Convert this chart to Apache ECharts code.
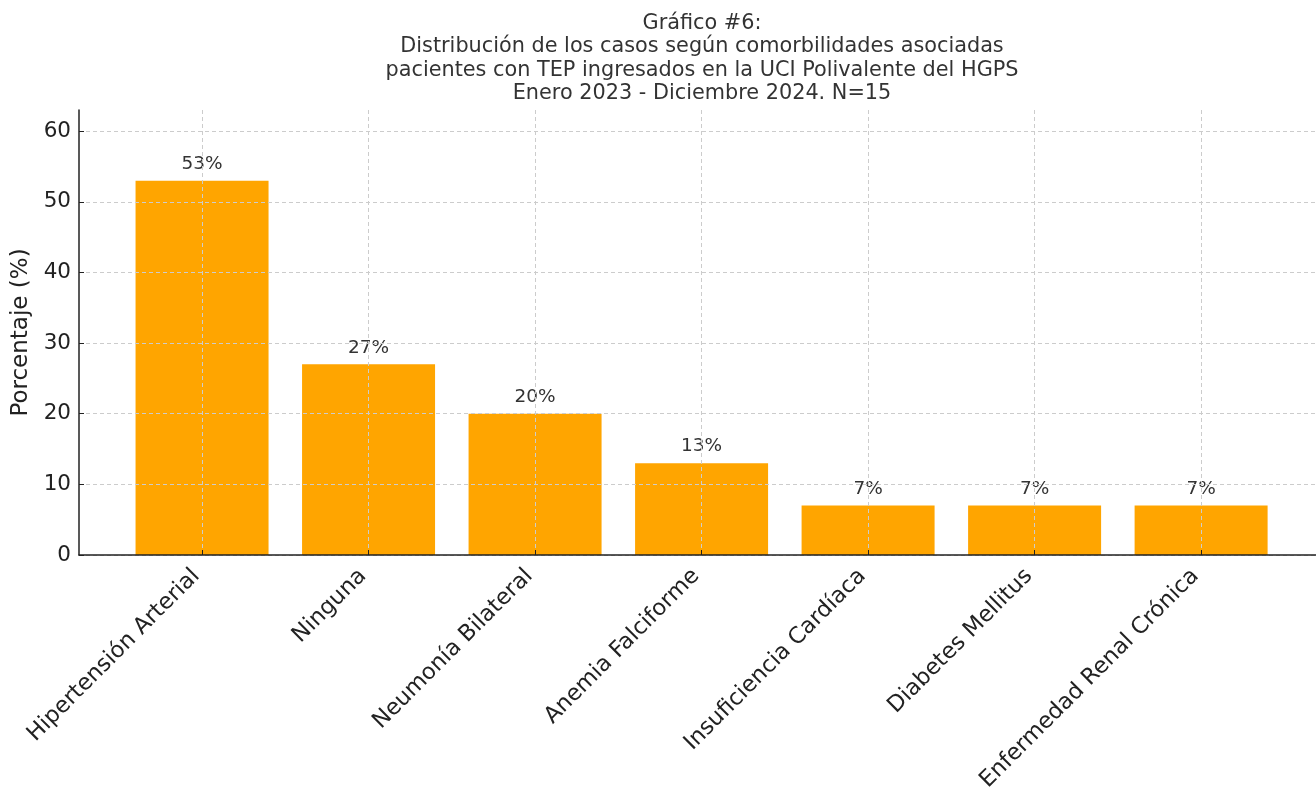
<!DOCTYPE html>
<html>
<head>
<meta charset="utf-8">
<script src="https://cdn.jsdelivr.net/npm/echarts@6/dist/echarts.min.js"></script>
<style>
  html, body { margin: 0; padding: 0; background: #fff; }
  #chart { width: 1316px; height: 788px; }
</style>
</head>
<body>
<div id="chart"></div>
<script>
// data
const categories = ['Hipertensión Arterial', 'Ninguna', 'Neumonía Bilateral', 'Anemia Falciforme',
  'Insuficiencia Cardíaca', 'Diabetes Mellitus', 'Enfermedad Renal Crónica'];
const percentages = [53, 27, 20, 13, 7, 7, 7];
const yTicks = [0, 10, 20, 30, 40, 50, 60];

const font = 'DejaVu Sans';
const positions = categories.map((c, i) => i);

const chart = echarts.init(document.getElementById('chart'));
chart.setOption({
  animation: false,
  textStyle: { fontFamily: font },
  title: {
    text: 'Gráfico #6:\nDistribución de los casos según comorbilidades asociadas\npacientes con TEP ingresados en la UCI Polivalente del HGPS\nEnero 2023 - Diciembre 2024. N=15',
    left: 697,
    textAlign: 'center',
    top: 7,
    textStyle: { fontFamily: font, fontSize: 20.8, fontWeight: 'normal', color: '#333', lineHeight: 23.3 }
  },
  // the plot runs off the right edge in the reference
  grid: { left: 79, right: 0, top: 110, bottom: 233, outerBoundsMode: 'none', containLabel: false },
  xAxis: {
    type: 'value',
    min: -0.739,
    max: 6.69,
    z: 5,
    axisLine: { show: true, onZero: false, lineStyle: { color: '#222', width: 1.5 } },
    axisTick: { show: true, inside: true, length: 5, customValues: positions, lineStyle: { color: '#222' } },
    axisLabel: {
      customValues: positions,
      rotate: 45,
      margin: 12,
      padding: [0, 8, 0, 0],
      fontSize: 22.5,
      color: '#222',
      formatter: v => categories[Math.round(v)]
    },
    splitLine: { show: true, lineStyle: { color: '#ccc', type: [4, 3] } }
  },
  yAxis: {
    type: 'value',
    min: 0,
    max: 63,
    z: 5,
    name: 'Porcentaje (%)',
    nameLocation: 'middle',
    nameGap: 46,
    nameRotate: 90,
    nameTextStyle: { fontSize: 23, color: '#222' },
    axisLine: { show: true, onZero: false, lineStyle: { color: '#222', width: 1.5 } },
    axisTick: { show: true, inside: true, length: 5, customValues: yTicks, lineStyle: { color: '#222' } },
    axisLabel: { customValues: yTicks, fontSize: 21.5, color: '#222', margin: 8 },
    splitLine: { show: true, lineStyle: { color: '#ccc', type: [4, 3] } }
  },
  series: [{
    type: 'bar',
    z: 1,
    barWidth: 133,
    itemStyle: { color: '#FFA500' },
    label: {
      show: true,
      position: 'top',
      distance: 7,
      fontSize: 18.5,
      color: '#333',
      formatter: p => p.value[1] + '%'
    },
    data: percentages.map((v, i) => [positions[i], v])
  }]
});
</script>
</body>
</html>
